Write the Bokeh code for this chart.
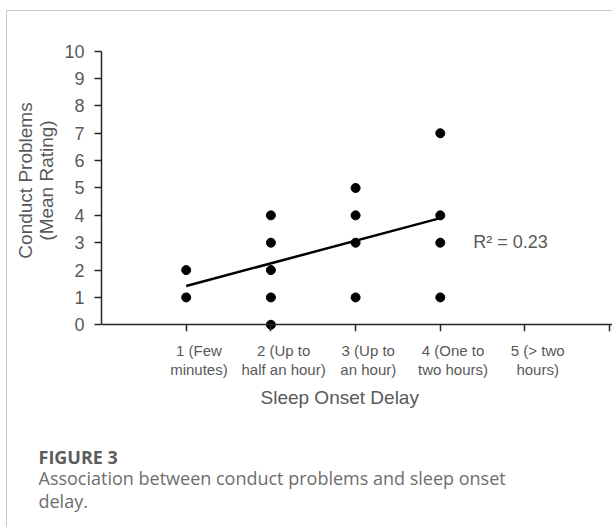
from bokeh.plotting import figure
from bokeh.models import Range1d, FixedTicker, LinearAxis, Title
from bokeh.core.properties import value
from bokeh.embed import file_html
from bokeh.resources import INLINE

# ---- data ----
delay_codes = [1, 1, 2, 2, 2, 2, 2, 3, 3, 3, 3, 4, 4, 4, 4]
conduct_rating = [1, 2, 0, 1, 2, 3, 4, 1, 3, 4, 5, 1, 3, 4, 7]
category_codes = [1, 2, 3, 4, 5]
category_labels = ["1 (Few\nminutes)", "2 (Up to\nhalf an hour)", "3 (Up to\nan hour)",
                   "4 (One to\ntwo hours)", "5 (> two\nhours)"]
x_tick_marks = [1, 2, 3, 4, 5, 6]
y_ticks = [0, 1, 2, 3, 4, 5, 6, 7, 8, 9, 10]
trend_x = [1, 4]
trend_y = [1.42, 3.90]
r2_text = "R\u00b2 = 0.23"
x_title = "Sleep Onset Delay"
y_title = "Conduct Problems\n(Mean Rating)"
fig_label = "FIGURE 3"
caption_lines = ["Association between conduct problems and sleep onset", "delay."]

GRAY = "#595959"
AXIS = "#262626"
FONT = "Liberation Sans"

p = figure(width=606, height=517, output_backend="svg", toolbar_location=None,
           x_range=Range1d(0, 6.045), y_range=Range1d(-0.245, 10.793),
           min_border_left=94, min_border_right=0, min_border_top=18, min_border_bottom=197,
           styles={"margin-left": "6px", "margin-top": "10px",
                   "border-left": "1px solid #c8c8c8", "border-top": "1px solid #c8c8c8"})
p.outline_line_color = None
p.xgrid.visible = False
p.ygrid.visible = False
p.background_fill_color = "white"
p.border_fill_color = "white"

# y axis
ya = p.yaxis[0]
ya.ticker = FixedTicker(ticks=y_ticks)
ya.bounds = (0, 10)
ya.major_tick_out = 7
ya.major_tick_in = 0
ya.minor_tick_line_color = None
ya.axis_line_color = AXIS
ya.axis_line_width = 1.5
ya.major_tick_line_color = AXIS
ya.major_tick_line_width = 1.5
ya.major_label_text_font = FONT
ya.major_label_text_font_size = "18px"
ya.major_label_text_color = GRAY
ya.major_label_standoff = 10
ya.axis_label = y_title
ya.axis_label_text_font = FONT
ya.axis_label_text_font_size = "19px"
ya.axis_label_text_font_style = "normal"
ya.axis_label_text_line_height = 1.0
ya.axis_label_text_color = GRAY
ya.axis_label_standoff = 4

# x axis line + tick marks at y = 0
xa = p.xaxis[0]
xa.fixed_location = 0
xa.ticker = FixedTicker(ticks=x_tick_marks)
xa.major_label_overrides = {t: "" for t in x_tick_marks}
xa.major_tick_out = 7
xa.major_tick_in = 0
xa.minor_tick_line_color = None
xa.axis_line_color = AXIS
xa.axis_line_width = 1.5
xa.major_tick_line_color = AXIS
xa.major_tick_line_width = 1.5

# category labels (sit slightly right of their tick, as in the source)
label_ticks = [c + 0.15 for c in category_codes]
la = LinearAxis(ticker=FixedTicker(ticks=label_ticks),
                major_label_overrides={t: lab for t, lab in zip(label_ticks, category_labels)},
                axis_line_color=None, major_tick_line_color=None, minor_tick_line_color=None,
                major_label_text_font=FONT, major_label_text_font_size="15px",
                major_label_text_line_height=1.12,
                major_label_text_color=GRAY, major_label_standoff=4)
p.add_layout(la, "below")

p.add_layout(Title(text=x_title, align="left", offset=159, standoff=9,
                   text_font=FONT, text_font_size="19px", text_font_style="normal",
                   text_color=GRAY), "below")

# figure caption
p.add_layout(Title(text=fig_label, align="left", offset=-63, standoff=61,
                   text_font="Open Sans", text_font_size="18px", text_font_style="bold",
                   text_color="#5c5c5c"), "below")
p.add_layout(Title(text="\n".join(caption_lines), align="left", offset=-63, standoff=-68,
                   vertical_align="top",
                   text_font="Open Sans", text_font_size="18px", text_font_style="normal",
                   text_line_height=0.97, text_color="#6e6e6e"), "below")

# data
p.line(trend_x, trend_y, line_width=2.5, line_color="black")
p.scatter(delay_codes, conduct_rating, size=9, fill_color="black", line_color="black")
p.text(x=[4.39], y=[3.04], text=[r2_text], text_font=value(FONT), text_font_size="18px",
       text_color=GRAY, text_baseline="middle", text_align="left")

open("out.html", "w").write(file_html(p, INLINE))
